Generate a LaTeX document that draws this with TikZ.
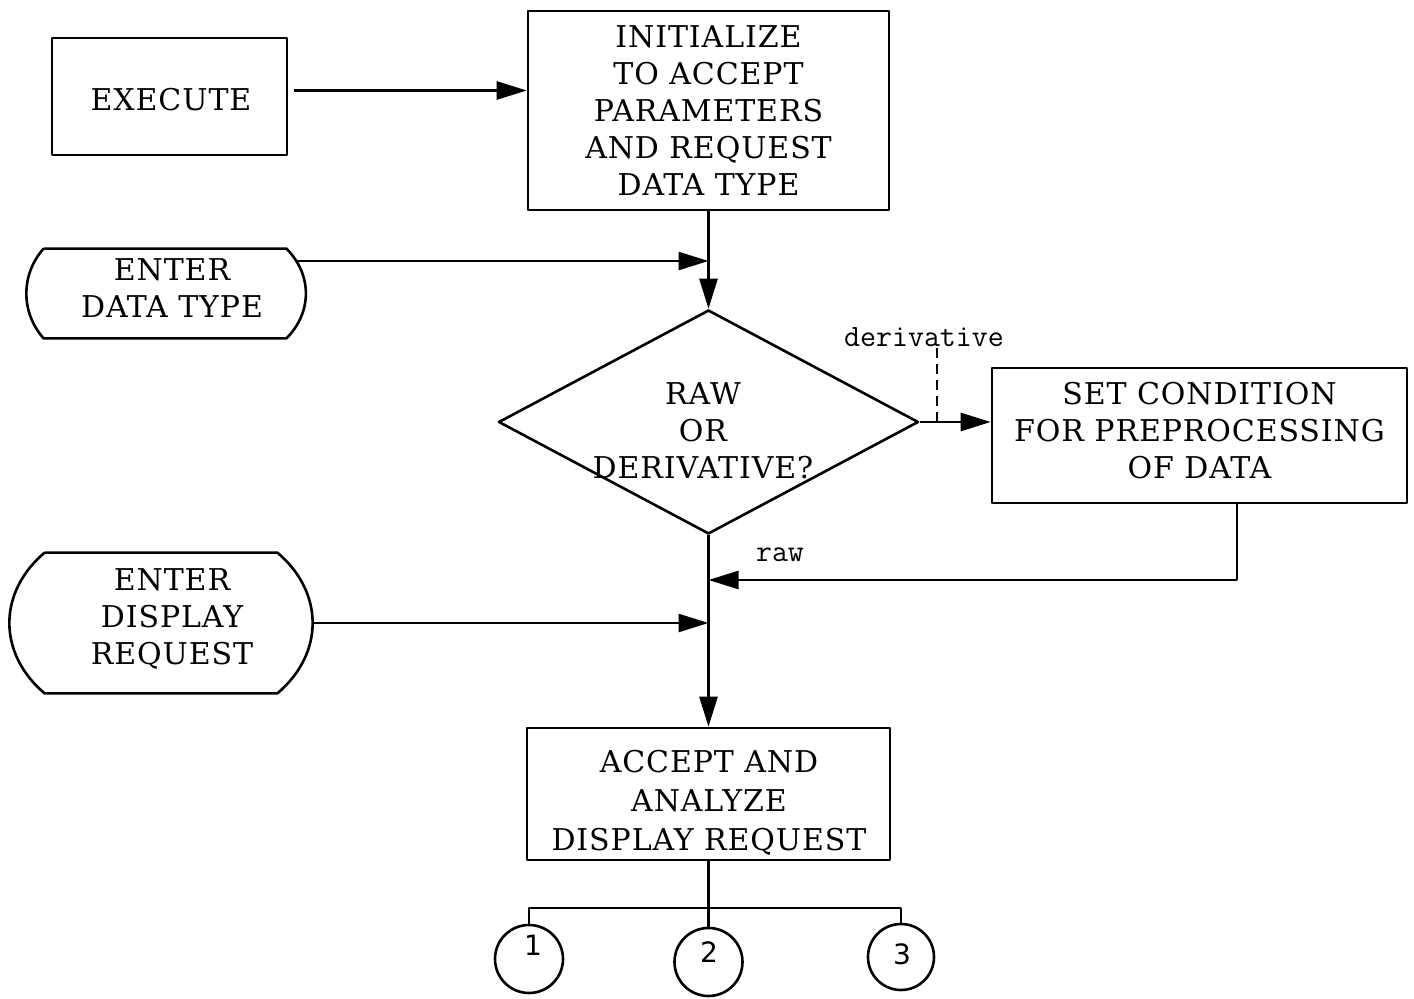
\documentclass[tikz,border=0pt]{standalone}
\usepackage{fontspec}
\newfontfamily\boxfnt{DejaVu Serif}[LetterSpace=3]
\newfontfamily\digfnt{DejaVu Sans}
\usetikzlibrary{arrows.meta,shapes.geometric,calc}
\tikzset{
  ln/.style={line width=1.3pt, line join=round},
  arr/.style={ln, -{Triangle[length=15pt,width=9pt]}},
  boxfont/.style={font=\boxfnt\fontsize{15}{18.5}\selectfont},
  procbox/.style={draw, ln, rectangle, inner sep=0pt, align=center, boxfont},
  inshape/.style={rectangle, inner sep=0pt},
  btext/.style={align=center, boxfont, inner sep=0pt},
  lab/.style={font=\fontsize{15.5}{18}\ttfamily, inner sep=0pt},
  conn/.style={draw, ln, circle, inner sep=0pt, minimum size=34pt},
  digit/.style={font=\digfnt\fontsize{14}{16}\selectfont, inner sep=0pt}
}
\begin{document}
\begin{tikzpicture}[x=0.5pt,y=-0.5pt]
\fill[white] (0,0) rectangle (1414,999);
\useasboundingbox (0,0) rectangle (1414,999);

% process boxes
\node[procbox, minimum width=117.5pt, minimum height=58.5pt] (exe) at (169.5,96.5) {};
\node[btext] (exetext) at (171,100) {EXECUTE};
\node[procbox, minimum width=180.5pt, minimum height=99.5pt] (init) at (708.5,110.5)
  {INITIALIZE\\TO ACCEPT\\PARAMETERS\\AND REQUEST\\DATA TYPE};
\node[procbox, minimum width=207.5pt, minimum height=67.5pt] (set) at (1199.5,435.5) {};
\node[btext] (settext) at (1199.5,430.5) {SET CONDITION\\FOR PREPROCESSING\\OF DATA};
\node[procbox, minimum width=181.5pt, minimum height=66pt] (acc) at (708.5,794) {};
\node[btext] (acctext) at (709,802.5) {ACCEPT AND\\[1pt]ANALYZE\\[1pt]DISPLAY REQUEST};

% decision
\node[diamond, draw, ln, minimum width=210pt, minimum height=112pt, inner sep=0pt] (dia) at (708.5,422) {};
\node[btext] (diatext) at (703,431) {RAW\\OR\\DERIVATIVE?};

% manual input shapes
\node[inshape, minimum width=121pt, minimum height=44.5pt] (edt) at (165,293.5) {};
\node[btext] (edttext) at (172,288.5) {ENTER\\DATA TYPE};
\draw[ln] (edt.north west) -- (edt.north east)
  .. controls +(26,26) and +(26,-26) .. (edt.south east) coordinate[pos=0.15] (edtout)
  -- (edt.south west)
  .. controls +(-23,-26) and +(-23,26) .. (edt.north west);

\node[inshape, minimum width=116pt, minimum height=70pt] (edr) at (161,623) {};
\node[btext] (edrtext) at (172,619) {ENTER\\DISPLAY\\REQUEST};
\draw[ln] (edr.north west) -- (edr.north east)
  .. controls +(47,40) and +(47,-40) .. (edr.south east) coordinate[pos=0.5] (edrout)
  -- (edr.south west)
  .. controls +(-47,-40) and +(-47,40) .. (edr.north west);

% connectors
\draw[arr] ([xshift=3pt,yshift=3pt]exe.east) -- ([yshift=3pt]exe.east -| init.west);
\draw[arr] (dia.north |- init.south) -- (dia.north);
\draw[arr] (edtout) -- (edtout -| dia.north);
\draw[arr] (dia.east) -- (dia.east -| set.west);

\node[lab] (derlab) at (924,337) {derivative};
\coordinate (dtop) at (937,348);
\draw[ln, dash pattern=on 5pt off 3pt] (dtop) -- (dtop |- dia.east);

\coordinate (ret) at (1237,580);
\draw[arr] (ret |- set.south) -- (ret) -- (ret -| dia.south);
\node[lab] (rawlab) at (780,555) {\addfontfeature{LetterSpace=15}raw};

\draw[arr] (edrout) -- (edrout -| dia.south);
\draw[arr] (dia.south) -- (dia.south |- acc.north);

% connectors to off-page circles
\node[conn] (c1) at (529,959) {};
\node[conn] (c2) at (708.5,962) {};
\node[conn, minimum size=33pt] (c3) at (901,957) {};
\node[digit] (d1) at (533,945) {1};
\node[digit] (d2) at (709,952) {2};
\node[digit] (d3) at (902,954) {3};
\coordinate (bus) at (708.5,908);
\draw[ln] (acc.south) -- (c2.north);
\draw[ln] (c1.north) -- (c1.north |- bus) -- (c3.north |- bus) -- (c3.north);
\end{tikzpicture}
\end{document}
